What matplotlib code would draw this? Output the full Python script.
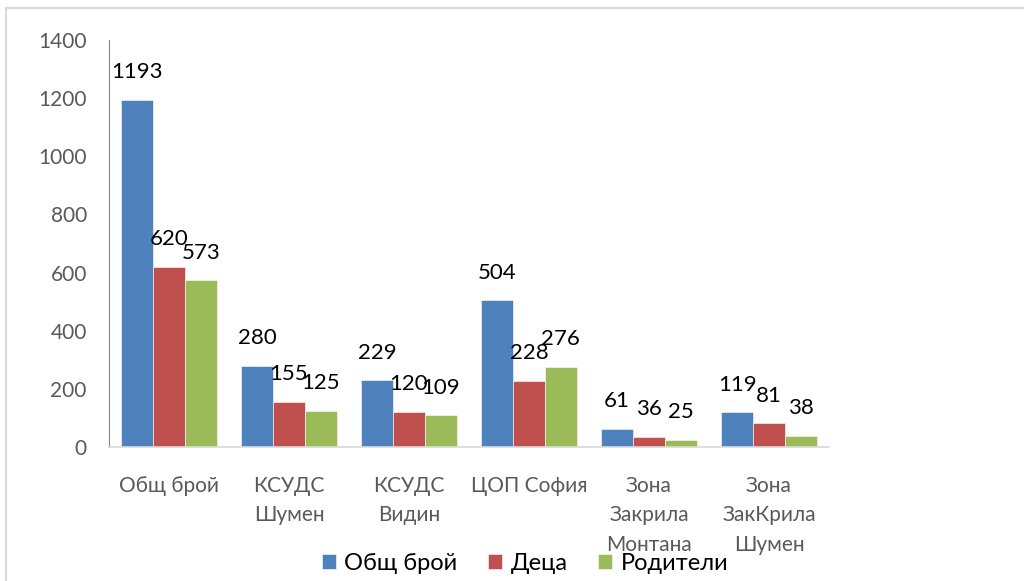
import numpy as np
import matplotlib.pyplot as plt
from matplotlib.lines import Line2D

categories = ["Общ брой", "КСУДС\nШумен", "КСУДС\nВидин", "ЦОП София",
              "Зона\nЗакрила\nМонтана", "Зона\nЗакКрила\nШумен"]
total = [1193, 280, 229, 504, 61, 119]
children = [620, 155, 120, 228, 36, 81]
parents = [573, 125, 109, 276, 25, 38]
series_names = ["Общ брой", "Деца", "Родители"]
colors = ["#4F81BD", "#C0504D", "#9BBB59"]

plt.rcParams['font.family'] = ['Lato', 'DejaVu Sans']

fig = plt.figure(figsize=(10.24, 5.81), dpi=100)
ax = fig.add_axes([109/1024, 1-447/581, 720/1024, (447-40)/581])

x = np.arange(len(categories))
w = 0.266
for i, (vals, name, c) in enumerate(zip([total, children, parents], series_names, colors)):
    pos = x + (i - 1) * w
    ax.bar(pos, vals, w, color=c, label=name, edgecolor='white', linewidth=0.4)
    for px, v in zip(pos, vals):
        ax.annotate(str(v), (px, v), xytext=(0, 20), textcoords='offset points',
                    ha='center', va='center', fontsize=16, color='black')

ax.set_xlim(-0.5, len(categories) - 0.5)
ax.set_ylim(0, 1400)
ax.set_yticks(range(0, 1401, 200))
ax.set_xticks(x)
ax.set_xticklabels(categories, linespacing=1.58)
ax.tick_params(axis='both', length=0, labelsize=15, labelcolor='#595959')
ax.tick_params(axis='x', pad=21)
ax.tick_params(axis='y', pad=16)
for s in ['top', 'right']:
    ax.spines[s].set_visible(False)
ax.spines['left'].set_color('#868686')
ax.spines['bottom'].set_color('#D9D9D9')
ax.spines['bottom'].set_linewidth(1.2)

fig.legend(loc='center', bbox_to_anchor=(525/1024, 1-563/581), ncol=3, frameon=False,
           fontsize=17, handlelength=0.6, handleheight=0.6, handletextpad=0.35,
           columnspacing=1.3)

# chart area border (top and left edges visible)
fig.add_artist(Line2D([6/1024, 1], [1-8/581, 1-8/581], color='#D9D9D9', lw=1.5))
fig.add_artist(Line2D([6/1024, 6/1024], [0, 1-8/581], color='#D9D9D9', lw=1.5))

fig.savefig("out.png", dpi=100)
